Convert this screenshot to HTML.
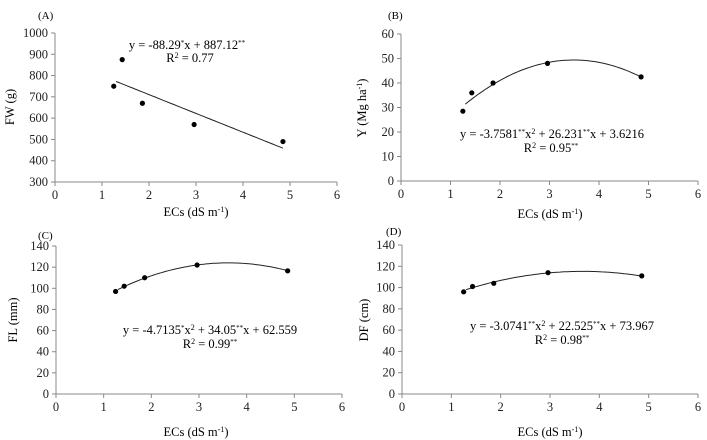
<!DOCTYPE html>
<html><head><meta charset="utf-8"><style>
html,body{margin:0;padding:0;background:#fff;}
svg{display:block;font-family:"Liberation Serif",serif;}
</style></head><body>
<svg id="s" width="707" height="440" xmlns="http://www.w3.org/2000/svg">
<text x="38" y="19" font-size="11">(A)</text>
<text x="187" y="49" font-size="12.5" text-anchor="middle">y = -88.29<tspan font-size="7" dy="-4">*</tspan><tspan dy="4">x + 887.12</tspan><tspan font-size="7" dy="-4">**</tspan></text>
<text x="190" y="62" font-size="12.5" text-anchor="middle">R<tspan font-size="8" dy="-4">2</tspan><tspan dy="4"> = 0.77</tspan></text>
<text x="14" y="107" font-size="12.5" text-anchor="middle" transform="rotate(-90 14 107)">FW (g)</text>
<text x="196" y="216" font-size="12.5" text-anchor="middle">ECs (dS m<tspan font-size="8" dy="-4">-1</tspan><tspan dy="4">)</tspan></text>

<text x="388" y="19" font-size="11">(B)</text>
<text x="552" y="138" font-size="12.5" text-anchor="middle">y = -3.7581<tspan font-size="7" dy="-4">**</tspan><tspan dy="4">x</tspan><tspan font-size="8" dy="-4">2</tspan><tspan dy="4"> + 26.231</tspan><tspan font-size="7" dy="-4">**</tspan><tspan dy="4">x + 3.6216</tspan></text>
<text x="551" y="152" font-size="12.5" text-anchor="middle">R<tspan font-size="8" dy="-4">2</tspan><tspan dy="4"> = 0.95</tspan><tspan font-size="7" dy="-4">**</tspan></text>
<text x="366" y="108" font-size="12.5" text-anchor="middle" transform="rotate(-90 366 108)">Y (Mg ha<tspan font-size="8" dy="-4">-1</tspan><tspan dy="4">)</tspan></text>
<text x="550" y="218" font-size="12.5" text-anchor="middle">ECs (dS m<tspan font-size="8" dy="-4">-1</tspan><tspan dy="4">)</tspan></text>

<text x="38" y="239" font-size="11">(C)</text>
<text x="210" y="334" font-size="12.5" text-anchor="middle">y = -4.7135<tspan font-size="7" dy="-4">*</tspan><tspan dy="4">x</tspan><tspan font-size="8" dy="-4">2</tspan><tspan dy="4"> + 34.05</tspan><tspan font-size="7" dy="-4">**</tspan><tspan dy="4">x + 62.559</tspan></text>
<text x="210" y="348" font-size="12.5" text-anchor="middle">R<tspan font-size="8" dy="-4">2</tspan><tspan dy="4"> = 0.99</tspan><tspan font-size="7" dy="-4">**</tspan></text>
<text x="17" y="320" font-size="12.5" text-anchor="middle" transform="rotate(-90 17 320)">FL (mm)</text>
<text x="196" y="436" font-size="12.5" text-anchor="middle">ECs (dS m<tspan font-size="8" dy="-4">-1</tspan><tspan dy="4">)</tspan></text>

<text x="386" y="235" font-size="11">(D)</text>
<text x="562" y="330" font-size="12.5" text-anchor="middle">y = -3.0741<tspan font-size="7" dy="-4">**</tspan><tspan dy="4">x</tspan><tspan font-size="8" dy="-4">2</tspan><tspan dy="4"> + 22.525</tspan><tspan font-size="7" dy="-4">**</tspan><tspan dy="4">x + 73.967</tspan></text>
<text x="562" y="344" font-size="12.5" text-anchor="middle">R<tspan font-size="8" dy="-4">2</tspan><tspan dy="4"> = 0.98</tspan><tspan font-size="7" dy="-4">**</tspan></text>
<text x="368" y="320" font-size="12.5" text-anchor="middle" transform="rotate(-90 368 320)">DF (cm)</text>
<text x="550" y="436" font-size="12.5" text-anchor="middle">ECs (dS m<tspan font-size="8" dy="-4">-1</tspan><tspan dy="4">)</tspan></text>
</svg>
<script>
var S=document.getElementById('s'),NS='http://www.w3.org/2000/svg';
function el(n,a,t){var e=document.createElementNS(NS,n);for(var k in a)e.setAttribute(k,a[k]);if(t!=null)e.textContent=t;S.appendChild(e);return e;}
function panel(p){
 var X=function(x){return p.x0+(p.x1-p.x0)*x/6;},Y=function(y){return p.yb+(p.yt-p.yb)*(y-p.ymin)/(p.ymax-p.ymin);};
 el('line',{x1:p.x0,y1:p.yt,x2:p.x0,y2:p.yb,stroke:'#888','stroke-width':1});
 el('line',{x1:p.x0,y1:p.yb,x2:p.x1,y2:p.yb,stroke:'#888','stroke-width':1});
 for(var v=p.ymin;v<=p.ymax+1e-9;v+=p.step){var y=Y(v);el('line',{x1:p.x0-4,y1:y,x2:p.x0,y2:y,stroke:'#888'});
  el('text',{x:p.x0-7,y:y+4,'font-size':12.5,'text-anchor':'end',fill:'#222'},v);}
 for(var i=0;i<=6;i++){var x=X(i);el('line',{x1:x,y1:p.yb,x2:x,y2:p.yb+4,stroke:'#888'});
  el('text',{x:x,y:p.yb+17,'font-size':12.5,'text-anchor':'middle',fill:'#222'},i);}
 var d='';for(var t=1.3;t<=4.85;t+=0.05){d+=(d?'L':'M')+X(t).toFixed(1)+' '+Y(p.f(t)).toFixed(1);}
 el('path',{d:d,fill:'none',stroke:'#222','stroke-width':1});
 p.pts.forEach(function(q){el('circle',{cx:X(q[0]),cy:Y(q[1]),r:2.6,fill:'#000'});});
}
panel({x0:55,x1:337,yt:33,yb:182,ymin:300,ymax:1000,step:100,f:function(x){return -88.29*x+887.12;},
 pts:[[1.25,750],[1.43,875],[1.86,670],[2.96,570],[4.85,490]]});
panel({x0:401,x1:698,yt:34,yb:181,ymin:0,ymax:60,step:10,f:function(x){return -3.7581*x*x+26.231*x+3.6216;},
 pts:[[1.25,28.5],[1.43,36],[1.86,40],[2.96,48],[4.85,42.5]]});
panel({x0:56,x1:342,yt:246,yb:394,ymin:0,ymax:140,step:20,f:function(x){return -4.7135*x*x+34.05*x+62.559;},
 pts:[[1.25,97],[1.43,102],[1.86,110],[2.96,122],[4.86,116.5]]});
panel({x0:402,x1:698,yt:245,yb:394,ymin:0,ymax:140,step:20,f:function(x){return -3.0741*x*x+22.525*x+73.967;},
 pts:[[1.25,96],[1.43,101],[1.86,104],[2.96,114],[4.86,111]]});
</script>
</body></html>
